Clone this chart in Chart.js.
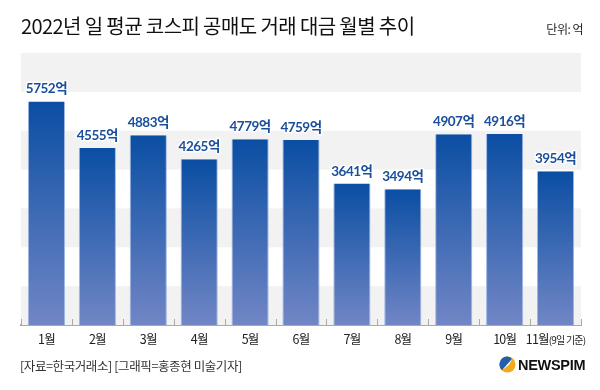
<!DOCTYPE html>
<html><head><meta charset="utf-8">
<script src="https://cdn.jsdelivr.net/npm/chart.js@4"></script>
<style>
html,body{margin:0;padding:0;background:#fff;}
#wrap{position:relative;width:600px;height:390px;overflow:hidden;font-family:"Noto Sans CJK KR",sans-serif;}
#title{position:absolute;left:21px;top:11px;font-size:20px;letter-spacing:-0.6px;color:#111;white-space:nowrap;}
#unit{position:absolute;right:17px;top:20px;font-size:12px;letter-spacing:-0.5px;color:#222;}
#src{position:absolute;left:20px;top:356px;font-size:12.5px;letter-spacing:-0.4px;color:#333;white-space:nowrap;}
#logo{position:absolute;left:499px;top:356px;display:flex;align-items:center;}
#logo span{font-family:"Liberation Sans",Arial,sans-serif;font-weight:bold;font-size:14.5px;color:#111;margin-left:2px;letter-spacing:-0.3px;}
canvas{position:absolute;left:0;top:0;}
</style></head>
<body><div id="wrap">
<canvas id="c" width="600" height="390"></canvas>
<div id="title">2022년 일 평균 코스피 공매도 거래 대금 월별 추이</div>
<div id="unit">단위: 억</div>
<div id="src">[자료=한국거래소] [그래픽=홍종현 미술기자]</div>
<div id="logo"><svg width="17" height="17" viewBox="0 0 17 17"><circle cx="8.5" cy="8.5" r="8" fill="#f2a81d"/><path d="M8.5 0.5 A8 8 0 0 0 3 14.3 L13 3 A8 8 0 0 0 8.5 0.5Z" fill="#1f5fae"/><path d="M3 14.3 L13.5 2.6 L10 9 Z" fill="#ffffff" opacity="0.85"/></svg><span>NEWSPIM</span></div>
</div>
<script>
const categories = ["1월","2월","3월","4월","5월","6월","7월","8월","9월","10월","11월"];
const values = [5752,4555,4883,4265,4779,4759,3641,3494,4907,4916,3954];
const valueLabels = ["5752억","4555억","4883억","4265억","4779억","4759억","3641억","3494억","4907억","4916억","3954억"];
const lastNote = "(9일 기준)";
const yTicks = [0,1000,2000,3000,4000,5000,6000,7000];

const bandPlugin = {
  id:'bands',
  beforeDatasetsDraw(chart){
    const {ctx, chartArea:a, scales:{y}} = chart;
    ctx.save();
    ctx.fillStyle = '#f2f2f2';
    for(let i=0;i<yTicks.length-1;i+=2){
      const y0 = y.getPixelForValue(yTicks[i]);
      const y1 = y.getPixelForValue(yTicks[i+1]);
      ctx.fillRect(a.left, y1, a.right-a.left, y0-y1);
    }
    ctx.restore();
  },
  afterDatasetsDraw(chart){
    const {ctx, chartArea:a, scales:{x,y}} = chart;
    ctx.save();
    ctx.strokeStyle = '#aaaaaa'; ctx.lineWidth = 1;
    for(let i=0;i<=categories.length;i++){
      const px = Math.round(x.getPixelForValue(i-0.5))+0.5;
      ctx.beginPath(); ctx.moveTo(px, a.bottom-6); ctx.lineTo(px, a.bottom); ctx.stroke();
    }
    const meta = chart.getDatasetMeta(0);
    ctx.font = 'bold 13.5px Lato, "Noto Sans CJK KR", sans-serif';
    ctx.textAlign = 'center'; ctx.textBaseline = 'alphabetic';
    if ('letterSpacing' in ctx) ctx.letterSpacing = '-0.5px';
    ctx.lineJoin = 'round';
    meta.data.forEach((el,i)=>{
      const tx = el.x, ty = el.y - 8;
      ctx.lineWidth = 3; ctx.strokeStyle = '#ffffff';
      ctx.strokeText(valueLabels[i], tx, ty);
      ctx.fillStyle = '#1b4f9c';
      ctx.fillText(valueLabels[i], tx, ty);
    });
    ctx.font = '12.5px "Noto Sans CJK KR", sans-serif';
    if ('letterSpacing' in ctx) ctx.letterSpacing = '-0.8px';
    ctx.fillStyle = '#222'; ctx.textBaseline = 'middle';
    categories.forEach((c,i)=>{
      const cx = x.getPixelForValue(i);
      if(i === categories.length-1){
        ctx.font = '12.5px "Noto Sans CJK KR", sans-serif';
        const w1 = ctx.measureText(c).width;
        ctx.font = '10px "Noto Sans CJK KR", sans-serif';
        const w2 = ctx.measureText(lastNote).width;
        const start = cx - (w1+w2)/2;
        ctx.textAlign='left';
        ctx.font = '12.5px "Noto Sans CJK KR", sans-serif';
        ctx.fillText(c, start, 339);
        ctx.font = '10px "Noto Sans CJK KR", sans-serif';
        ctx.fillText(lastNote, start+w1, 340);
      } else {
        ctx.textAlign='center';
        ctx.fillText(c, cx, 339);
      }
    });
    ctx.restore();
  }
};

function barGradient(context){
  const chart = context.chart;
  const {ctx, chartArea} = chart;
  if(!chartArea || context.dataIndex === undefined) return '#2a5fa8';
  const y = chart.scales.y;
  const top = y.getPixelForValue(values[context.dataIndex]);
  const bottom = y.getPixelForValue(0);
  const g = ctx.createLinearGradient(0, top, 0, bottom);
  g.addColorStop(0, '#0a4ea3');
  g.addColorStop(1, '#7186c5');
  return g;
}

new Chart(document.getElementById('c'), {
  type:'bar',
  data:{ labels:categories, datasets:[{ data:values, backgroundColor:barGradient,
    borderColor:'rgba(150,175,225,0.9)', borderWidth:{left:1,right:1,top:0,bottom:0}, borderSkipped:false,
    barPercentage:0.73, categoryPercentage:1 }] },
  options:{
    responsive:false, animation:false,
    layout:{ padding:{ left:21, right:19, top:53, bottom:0 } },
    plugins:{ legend:{display:false}, tooltip:{enabled:false} },
    scales:{
      x:{ grid:{display:false}, ticks:{display:false},
          border:{display:true, color:'#aaaaaa', width:2},
          afterFit(s){ s.height = 65; } },
      y:{ display:false, min:0, max:7000 }
    }
  },
  plugins:[bandPlugin]
});
</script>
</body></html>
